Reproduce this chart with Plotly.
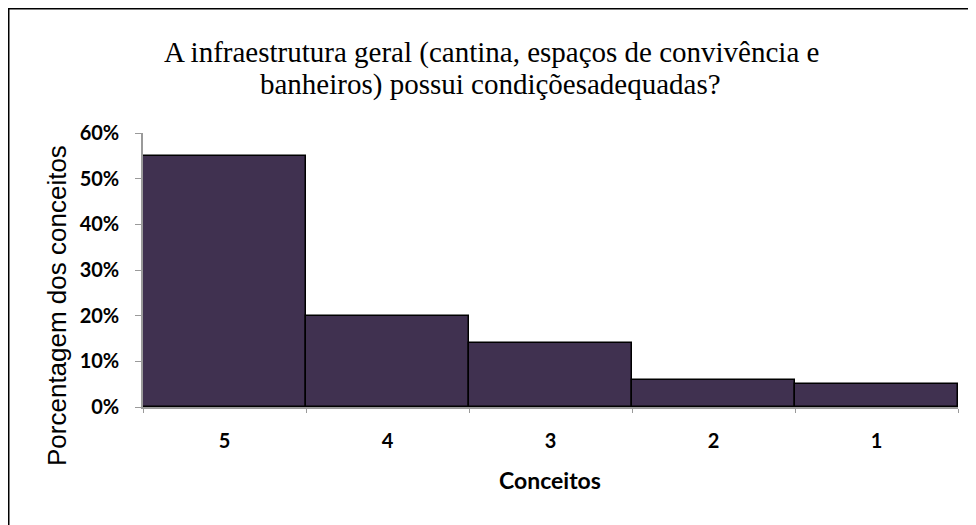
import plotly.graph_objects as go

categories = ["5", "4", "3", "2", "1"]
values = [0.55, 0.20, 0.14, 0.06, 0.05]
y_ticks = [0, 0.1, 0.2, 0.3, 0.4, 0.5, 0.6]
title_line1 = "A infraestrutura geral (cantina, espaços de convivência e"
title_line2 = "banheiros) possui condiçõesadequadas?"
x_title = "Conceitos"
y_title = "Porcentagem dos conceitos"

W, H = 976, 525
L, R, T, B = 135, 26, 125, 126
pw, ph = W - L - R, H - T - B

def px(x):
    return (x - L) / pw

def py(y):
    return (H - B - y) / ph

fig = go.Figure(go.Bar(
    x=categories, y=values,
    marker=dict(color="#403150", line=dict(color="#000000", width=1.5)),
    width=1.0,
))

tick_font = dict(family="Lato, Arial, sans-serif", size=20, color="#000000", weight="bold")
serif = "Liberation Serif, Times New Roman, serif"

fig.update_layout(
    width=W, height=H,
    margin=dict(l=L, r=R, t=T, b=B),
    paper_bgcolor="white", plot_bgcolor="white",
    bargap=0, showlegend=False,
    xaxis=dict(
        type="category", showgrid=False, showline=True, linecolor="#9a9a9a", linewidth=1.5,
        ticks="outside", tickson="boundaries", ticklen=4, tickcolor="#9a9a9a",
        tickfont=tick_font, ticklabelstandoff=15, zeroline=False,
    ),
    yaxis=dict(
        range=[0, 0.6], tickvals=y_ticks, tickformat=".0%", showgrid=False,
        showline=True, linecolor="#9a9a9a", linewidth=1.5, ticks="outside", ticklen=6,
        tickcolor="#9a9a9a", tickfont=tick_font, ticklabelstandoff=12, zeroline=False,
    ),
    annotations=[
        dict(text=title_line1, x=px(483), y=py(45), xref="paper", yref="paper",
             showarrow=False, xanchor="center", yanchor="middle",
             font=dict(family=serif, size=29, color="#000000")),
        dict(text=title_line2, x=px(482), y=py(76), xref="paper", yref="paper",
             showarrow=False, xanchor="center", yanchor="middle",
             font=dict(family=serif, size=29, color="#000000")),
        dict(text=x_title, x=px(542), y=py(472), xref="paper", yref="paper",
             showarrow=False, xanchor="center", yanchor="middle",
             font=dict(family="Lato, Arial, sans-serif", size=23, color="#000000", weight="bold")),
        dict(text=y_title, x=px(49), y=py(298), xref="paper", yref="paper", textangle=-90,
             showarrow=False, xanchor="center", yanchor="middle",
             font=dict(family="Liberation Sans, Arial, sans-serif", size=26, color="#000000")),
    ],
    shapes=[
        dict(type="line", xref="paper", yref="paper", x0=px(0), x1=px(990), y0=py(0), y1=py(0),
             line=dict(color="#000000", width=3)),
        dict(type="line", xref="paper", yref="paper", x0=px(0), x1=px(0), y0=py(0), y1=py(540),
             line=dict(color="#000000", width=3)),
    ],
)

fig.write_html("out.html")
